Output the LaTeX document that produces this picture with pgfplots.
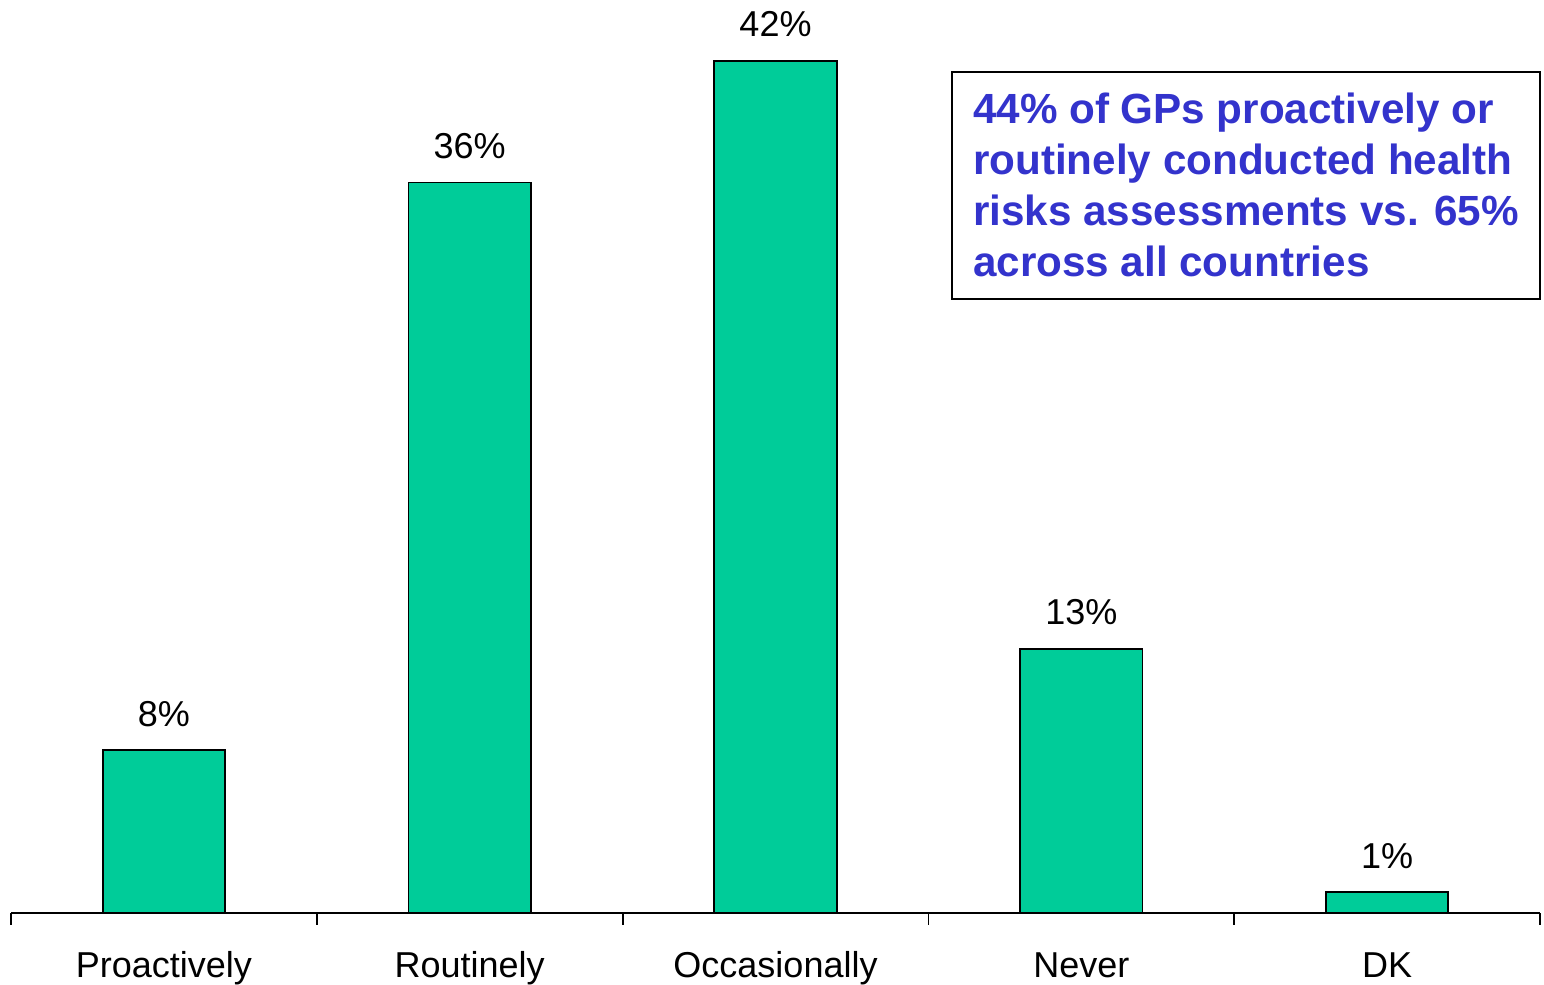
\documentclass[border=0pt]{standalone}
\usepackage{fontspec}
\setmainfont{Liberation Sans}
\usepackage{pgfplots}
\pgfplotsset{compat=1.18}
\definecolor{barGreen}{HTML}{00CC99}
\definecolor{noteBlue}{HTML}{3333CC}

\begin{document}
\begin{tikzpicture}
\begin{axis}[
  scale only axis,
  width=764.5pt, height=456.3pt,
  xmin=-0.5, xmax=4.5, ymin=0, ymax=45,
  axis x line*=bottom,
  axis y line=none,
  ytick=\empty,
  axis line style={line width=0.9pt, black},
  xtick={0,1,2,3,4},
  xticklabels={Proactively,Routinely,Occasionally,Never,DK},
  minor xtick={-0.5,0.5,1.5,2.5,3.5,4.5},
  tick align=outside,
  major tick length=0pt,
  minor tick length=6pt,
  tick style={line width=0.9pt, black},
  xticklabel style={anchor=base, yshift=-32.5pt, font=\fontsize{18}{21.6}\selectfont},
  ybar, bar width=0.4,
  clip=false,
  nodes near coords={\pgfmathprintnumber{\pgfplotspointmeta}\%},
  nodes near coords style={anchor=base, yshift=12pt, text=black,
    font=\fontsize{18}{21.6}\selectfont,
    /pgf/number format/assume math mode=true},
]
  % share of GPs by how often they conduct health risk assessments
  \addplot[fill=barGreen, draw=black, line width=0.9pt]
    coordinates {(0,8) (1,36) (2,42) (3,13) (4,1)};

  \node[draw=black, line width=1pt, anchor=north west,
        inner xsep=10pt, inner ysep=0pt, align=left,
        minimum width=294pt, minimum height=113.5pt,
        text=noteBlue, font=\bfseries\fontsize{21.1}{25.5}\selectfont]
    at (rel axis cs:0.6148,0.9226)
    {44\% of GPs proactively or\\
     routinely conducted health\\
     risks assessments vs. 65\%\\
     across all countries};

  \coordinate (bl) at (rel axis cs:0,0);
  \coordinate (tr) at (rel axis cs:1,1);
\end{axis}
\pgfresetboundingbox
\path ([xshift=-5.5pt,yshift=-36pt]bl) rectangle ([xshift=2pt]tr);
\end{tikzpicture}
\end{document}
